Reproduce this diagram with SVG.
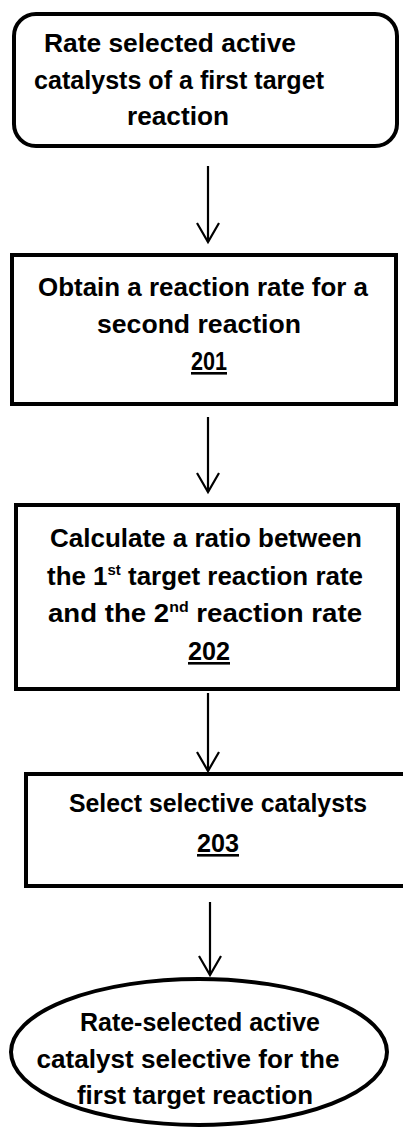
<svg xmlns="http://www.w3.org/2000/svg" width="403" height="1129" viewBox="0 0 403 1129">
<defs>
<style>
.box{fill:#fff;stroke:#000;stroke-width:4}
.t{font-family:"Liberation Sans",Arial,sans-serif;font-weight:bold;font-size:26px;fill:#000;text-anchor:middle}
.sup{font-size:15px}
.c line,.c polyline{stroke:#000;stroke-width:2.2;fill:none}
</style>
</defs>
<rect width="403" height="1129" fill="#fff"/>
<g id="n1">
<rect class="box" x="14" y="14" width="383" height="132" rx="22"/>
<text class="t" x="170" y="52" textLength="252" lengthAdjust="spacingAndGlyphs">Rate selected active</text>
<text class="t" x="179" y="89" textLength="290" lengthAdjust="spacingAndGlyphs">catalysts of a first target</text>
<text class="t" x="178" y="125" textLength="102" lengthAdjust="spacingAndGlyphs">reaction</text>
</g>
<g id="n2">
<rect class="box" x="12" y="255" width="384" height="149"/>
<text class="t" x="203" y="296" textLength="330" lengthAdjust="spacingAndGlyphs">Obtain a reaction rate for a</text>
<text class="t" x="199" y="333" textLength="204" lengthAdjust="spacingAndGlyphs">second reaction</text>
<text class="t" x="209" y="370" textLength="36" lengthAdjust="spacingAndGlyphs" text-decoration="underline">201</text>
</g>
<g id="n3">
<rect class="box" x="16" y="505" width="382" height="184"/>
<text class="t" x="206" y="547" textLength="312" lengthAdjust="spacingAndGlyphs">Calculate a ratio between</text>
<text class="t" x="205" y="585" textLength="316" lengthAdjust="spacingAndGlyphs">the 1<tspan class="sup" dy="-10">st</tspan><tspan dy="10"> target reaction rate</tspan></text>
<text class="t" x="205" y="622" textLength="314" lengthAdjust="spacingAndGlyphs">and the 2<tspan class="sup" dy="-10">nd</tspan><tspan dy="10"> reaction rate</tspan></text>
<text class="t" x="209" y="660" textLength="42" lengthAdjust="spacingAndGlyphs" text-decoration="underline">202</text>
</g>
<g id="n4">
<rect class="box" x="26" y="774" width="390" height="112"/>
<text class="t" x="218" y="812" textLength="298" lengthAdjust="spacingAndGlyphs">Select selective catalysts</text>
<text class="t" x="218" y="852" textLength="42" lengthAdjust="spacingAndGlyphs" text-decoration="underline">203</text>
</g>
<g id="n5">
<ellipse class="box" cx="199" cy="1052" rx="188" ry="73"/>
<text class="t" x="200" y="1031" textLength="240" lengthAdjust="spacingAndGlyphs">Rate-selected active</text>
<text class="t" x="188" y="1068" textLength="303" lengthAdjust="spacingAndGlyphs">catalyst selective for the</text>
<text class="t" x="195" y="1104" textLength="236" lengthAdjust="spacingAndGlyphs">first target reaction</text>
</g>
<g id="connectors" class="c">
<line x1="208" y1="166" x2="208" y2="242"/>
<polyline points="197,223 208,242 219,223"/>
<line x1="208" y1="417" x2="208" y2="492"/>
<polyline points="197,473 208,492 219,473"/>
<line x1="208" y1="693" x2="208" y2="771"/>
<polyline points="197,752 208,771 219,752"/>
<line x1="210" y1="902" x2="210" y2="975"/>
<polyline points="199,956 210,975 221,956"/>
</g>
</svg>
